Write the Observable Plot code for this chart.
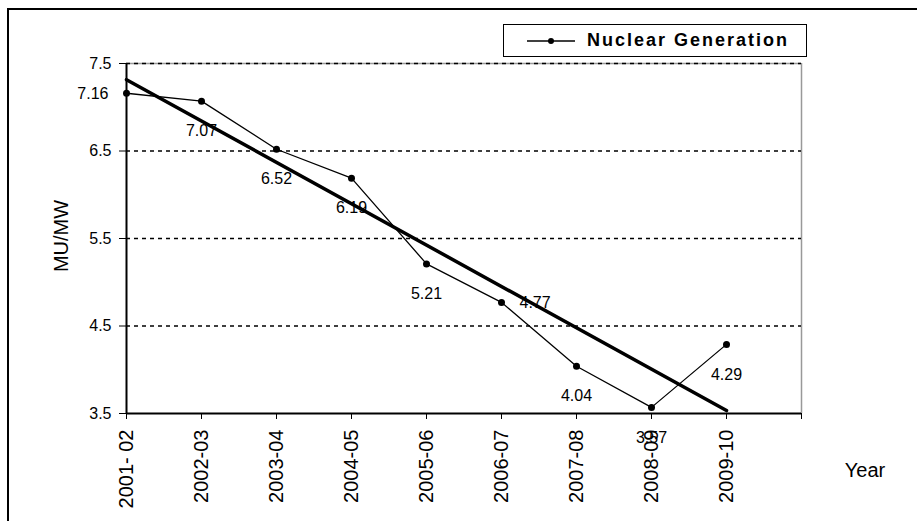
<!DOCTYPE html>
<html>
<head>
<meta charset="utf-8">
<script src="https://cdn.jsdelivr.net/npm/d3@7"></script>
<script src="https://cdn.jsdelivr.net/npm/@observablehq/plot@0.6"></script>
<style>
  body { margin: 0; background: #fff; font-family: "Liberation Sans", Arial, sans-serif; }
  #wrap { position: relative; width: 917px; height: 521px; overflow: hidden; background: #fff; }
  #frame { position: absolute; left: 7px; top: 8px; width: 1000px; height: 1000px;
           border-left: 2px solid #000; border-top: 2px solid #000; }
  #chart { position: absolute; left: 0; top: 0; }
  #legend { position: absolute; left: 503px; top: 24px; width: 302px; height: 31px;
            border: 1.5px solid #000; background: #fff; }
  #legend svg { position: absolute; left: 0; top: 0; }
  #legend span { position: absolute; left: 83px; top: 5px; font-weight: bold; font-size: 18px;
                 letter-spacing: 2px; color: #000; white-space: nowrap; line-height: 20px; }
  #ylab { position: absolute; left: 61px; top: 236px; font-size: 20px; white-space: nowrap;
          transform: translate(-50%, -50%) rotate(-90deg); color: #000; }
  #xlab { position: absolute; left: 865px; top: 470px; font-size: 20px; white-space: nowrap;
          transform: translate(-50%, -50%); color: #000; }
</style>
</head>
<body>
<div id="wrap">
  <div id="frame"></div>
  <div id="chart"></div>
  <div id="legend">
    <svg width="80" height="31"><line x1="23" x2="71" y1="16" y2="16" stroke="#000" stroke-width="1.5"></line><circle cx="47" cy="16" r="3" fill="#000"></circle></svg>
    <span id="legendText"></span>
  </div>
  <div id="ylab"></div>
  <div id="xlab"></div>
</div>
<script>
// Data
const years = ["2001- 02", "2002-03", "2003-04", "2004-05", "2005-06", "2006-07", "2007-08", "2008-09", "2009-10"];
const generation = [7.16, 7.07, 6.52, 6.19, 5.21, 4.77, 4.04, 3.57, 4.29];
const yTicks = [3.5, 4.5, 5.5, 6.5, 7.5];
const gridValues = [4.5, 5.5, 6.5, 7.5];
const seriesName = "Nuclear Generation";
const yTitle = "MU/MW";
const xTitle = "Year";

document.getElementById("legendText").textContent = seriesName;
document.getElementById("ylab").textContent = yTitle;
document.getElementById("xlab").textContent = xTitle;

const data = years.map((year, i) => ({i, year, value: generation[i]}));
const slots = d3.range(years.length + 1); // axis extends one category beyond the data

const fmt = d => d.value.toFixed(2);

const chart = Plot.plot({
  width: 917,
  height: 521,
  marginLeft: 126,
  marginRight: 116,
  marginTop: 63,
  marginBottom: 108,
  style: {fontFamily: "Liberation Sans, Arial, sans-serif", background: "transparent", color: "#000"},
  x: {type: "linear", domain: [0, years.length], axis: null},
  y: {domain: [yTicks[0], yTicks[yTicks.length - 1]], axis: null},
  marks: [
    // plot-area border (top & right, grey)
    Plot.ruleY([yTicks[yTicks.length - 1]], {stroke: "#999", strokeWidth: 1.5}),
    Plot.ruleX([years.length], {stroke: "#999", strokeWidth: 1.5}),
    // dotted gridlines
    Plot.ruleY(gridValues, {stroke: "#000", strokeWidth: 1.3, strokeDasharray: "4,4"}),
    // trend line
    Plot.linearRegressionY(data, {x: "i", y: "value", stroke: "#000", strokeWidth: 3.5, ci: 0}),
    // series
    Plot.line(data, {x: "i", y: "value", stroke: "#000", strokeWidth: 1.3}),
    Plot.dot(data, {x: "i", y: "value", r: 3.5, fill: "#000"}),
    // data labels
    Plot.text(data.filter(d => d.i !== 0 && d.i !== 5), {x: "i", y: "value", text: fmt, dy: 30, fontSize: 16, fill: "#000"}),
    Plot.text(data.filter(d => d.i === 0), {x: "i", y: "value", text: fmt, dx: -18, dy: 1, textAnchor: "end", fontSize: 16, fill: "#000"}),
    Plot.text(data.filter(d => d.i === 5), {x: "i", y: "value", text: fmt, dx: 18, textAnchor: "start", fontSize: 16, fill: "#000"}),
    // axes
    Plot.axisY(yTicks, {tickSize: 7, tickPadding: 8, fontSize: 16, tickFormat: d => d.toFixed(1), label: null}),
    Plot.axisX(slots, {tickSize: 6, tickPadding: 10, fontSize: 20, tickRotate: -90, tickFormat: i => years[i] ?? "", label: null}),
    Plot.ruleX([0], {stroke: "#000", strokeWidth: 2}),
    Plot.ruleY([yTicks[0]], {stroke: "#000", strokeWidth: 2})
  ]
});
document.getElementById("chart").appendChild(chart);
</script>
</body>
</html>
